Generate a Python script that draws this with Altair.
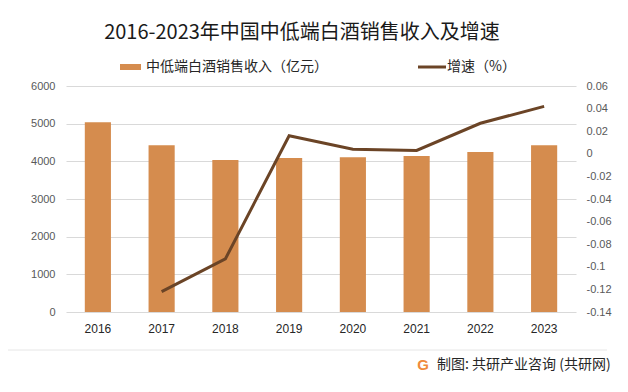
import altair as alt
import pandas as pd

years = ["2016", "2017", "2018", "2019", "2020", "2021", "2022", "2023"]
revenue = [5040, 4430, 4035, 4090, 4110, 4140, 4250, 4430]
growth_years = ["2017", "2018", "2019", "2020", "2021", "2022", "2023"]
growth = [-0.122, -0.093, 0.016, 0.004, 0.003, 0.027, 0.042]

title_text = "2016-2023年中国中低端白酒销售收入及增速"
legend_bar = "中低端白酒销售收入（亿元）"
legend_line = "增速（%）"
source_text = "制图: 共研产业咨询 (共研网)"

BAR = "#D58C4E"
LINE = "#6B4426"
CJK = "Noto Sans CJK SC"

bar_df = pd.DataFrame({"year": years, "revenue": revenue})
line_df = pd.DataFrame({"year": growth_years, "growth": growth})
one = pd.DataFrame({"k": [0]})

xscale = alt.Scale(paddingInner=0.59, paddingOuter=0.295)
xaxis = alt.Axis(title=None, labelAngle=0, domain=False, ticks=False, labelPadding=11,
                 labelFontSize=12, labelColor="#262626", labelFont="Liberation Sans")

bars = alt.Chart(bar_df).mark_bar(color=BAR).encode(
    x=alt.X("year:N", scale=xscale, axis=xaxis, sort=years),
    y=alt.Y("revenue:Q", scale=alt.Scale(domain=[0, 6000], nice=False),
            axis=alt.Axis(title=None, orient="left", values=[0, 1000, 2000, 3000, 4000, 5000, 6000],
                          format="d", domain=False, ticks=False, grid=True, gridColor="#D9D9D9",
                          labelPadding=11, labelFontSize=11, labelColor="#595959",
                          labelFont="Liberation Sans")),
)

gvals = [-0.14, -0.12, -0.1, -0.08, -0.06, -0.04, -0.02, 0, 0.02, 0.04, 0.06]
line = alt.Chart(line_df).mark_line(color=LINE, strokeWidth=3).encode(
    x=alt.X("year:N", scale=xscale, axis=xaxis, sort=years),
    y=alt.Y("growth:Q", scale=alt.Scale(domain=[-0.14, 0.06], nice=False),
            axis=alt.Axis(title=None, orient="right", values=gvals, domain=False, ticks=False,
                          grid=False, labelPadding=10, labelFontSize=11, labelColor="#595959",
                          labelFont="Liberation Sans",
                          labelExpr="replace(format(datum.value, '~g'), '\u2212', '-')")),
)

title = alt.Chart(one).mark_text(fontSize=20, font=CJK, color="#1a1a1a", align="center",
                                 baseline="middle").encode(
    x=alt.value(236), y=alt.value(-53), text=alt.value(title_text))

leg_rect = alt.Chart(one).mark_rect(color=BAR).encode(
    x=alt.value(54), x2=alt.value(75), y=alt.value(-22), y2=alt.value(-16))
leg_t1 = alt.Chart(one).mark_text(fontSize=14, font=CJK, color="#262626", align="left",
                                  baseline="middle").encode(
    x=alt.value(80), y=alt.value(-19), text=alt.value(legend_bar))
leg_rule = alt.Chart(one).mark_rule(color=LINE, strokeWidth=3).encode(
    x=alt.value(352), x2=alt.value(380), y=alt.value(-19))
leg_t2 = alt.Chart(one).mark_text(fontSize=14, font=CJK, color="#262626", align="left",
                                  baseline="middle").encode(
    x=alt.value(381), y=alt.value(-19), text=alt.value(legend_line))

sep = alt.Chart(one).mark_rule(color="#E6E6E6", strokeWidth=1).encode(
    x=alt.value(-66), x2=alt.value(541), y=alt.value(264))
logo = alt.Chart(one).mark_text(fontSize=15, font="Liberation Sans", fontWeight="bold",
                                color="#F08A3C", align="center", baseline="middle").encode(
    x=alt.value(357), y=alt.value(279), text=alt.value("G"))
src = alt.Chart(one).mark_text(fontSize=14, font=CJK, color="#262626", align="left",
                               baseline="middle").encode(
    x=alt.value(371), y=alt.value(279), text=alt.value(source_text))

chart = alt.layer(bars, line, title, leg_rect, leg_t1, leg_rule, leg_t2, sep, logo, src).resolve_scale(
    y="independent"
).properties(
    width=510, height=226,
    padding={"left": 58, "top": 78, "right": 44, "bottom": 72},
    autosize=alt.AutoSizeParams(type="none"),
).configure_view(stroke=None)

chart.save("out.html", embed_options={"renderer": "svg", "actions": False})
